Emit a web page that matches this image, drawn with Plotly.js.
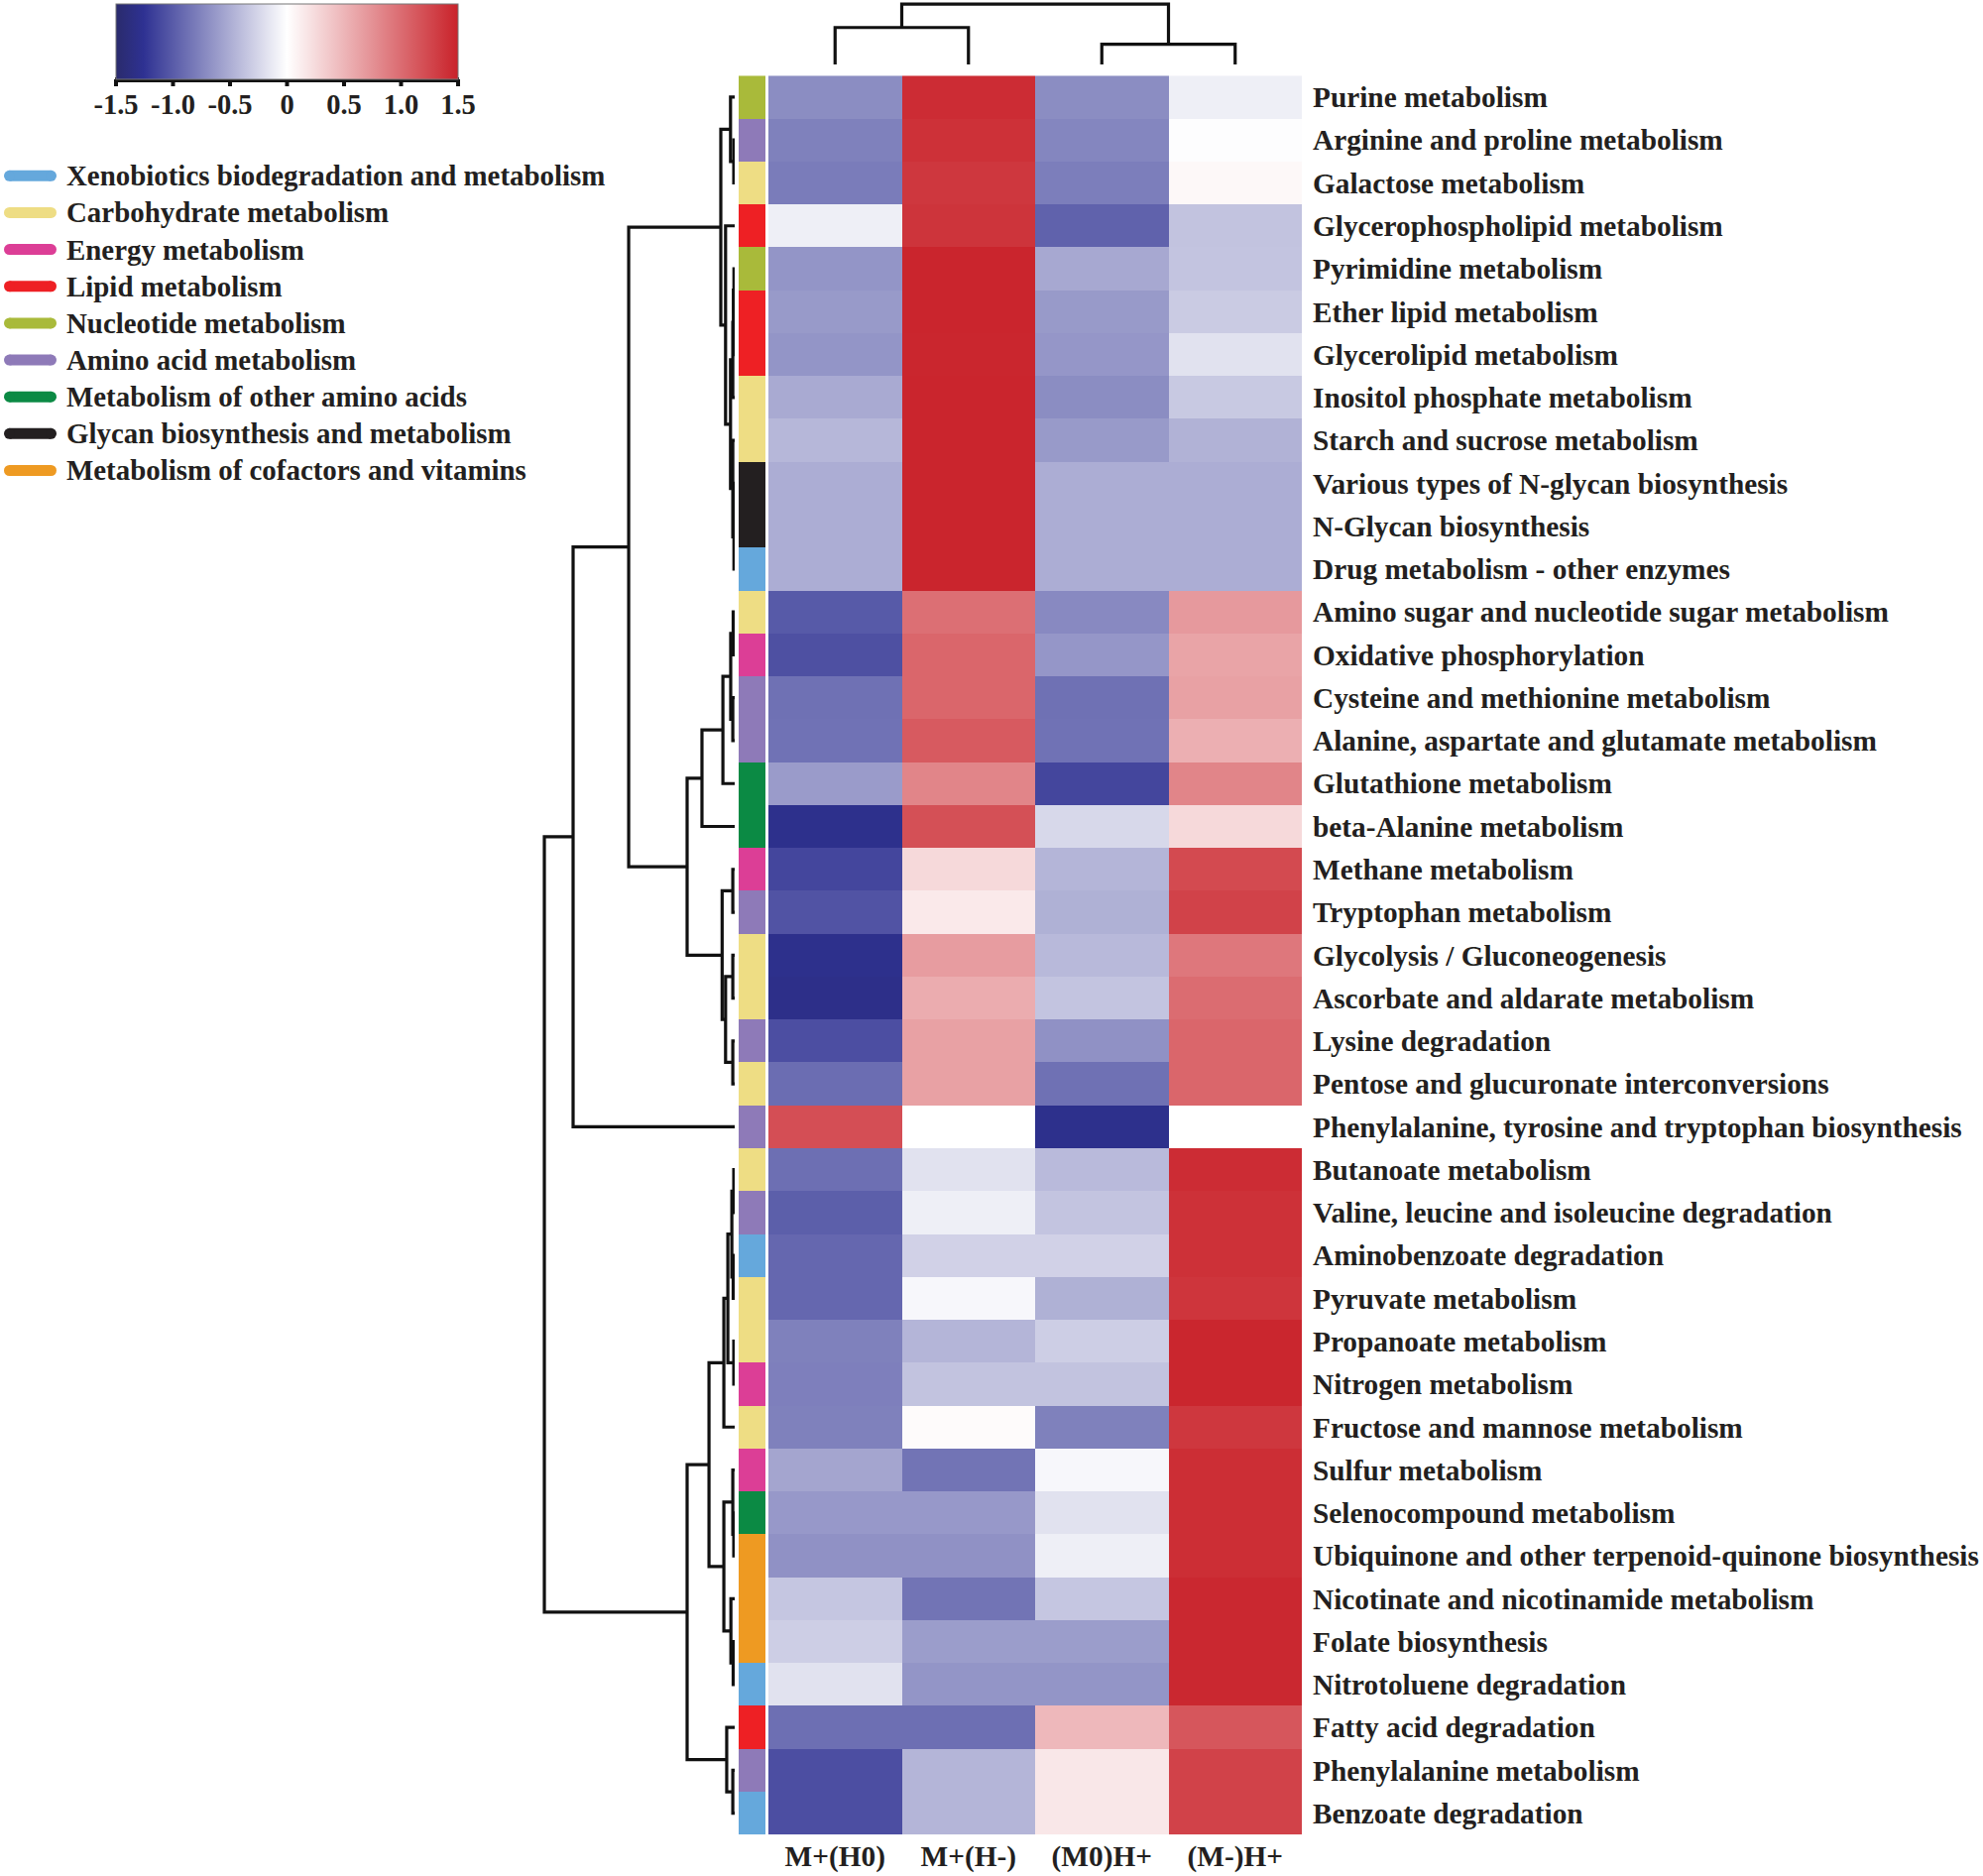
<!DOCTYPE html>
<html><head><meta charset="utf-8">
<script src="https://cdn.plot.ly/plotly-3.0.1.min.js"></script>
<style>html,body{margin:0;padding:0;background:#fff}#chart{width:2000px;height:1892px}</style>
</head><body><div id="chart"></div>
<script>
const W = 2000, H = 1892;
const FONT = '"Liberation Serif", "Times New Roman", serif';
const TXT = '#231f20';

// ---- data ----
const pathways = [
  "Purine metabolism","Arginine and proline metabolism","Galactose metabolism","Glycerophospholipid metabolism",
  "Pyrimidine metabolism","Ether lipid metabolism","Glycerolipid metabolism","Inositol phosphate metabolism",
  "Starch and sucrose metabolism","Various types of N-glycan biosynthesis","N-Glycan biosynthesis",
  "Drug metabolism - other enzymes","Amino sugar and nucleotide sugar metabolism","Oxidative phosphorylation",
  "Cysteine and methionine metabolism","Alanine, aspartate and glutamate metabolism","Glutathione metabolism",
  "beta-Alanine metabolism","Methane metabolism","Tryptophan metabolism","Glycolysis / Gluconeogenesis",
  "Ascorbate and aldarate metabolism","Lysine degradation","Pentose and glucuronate interconversions",
  "Phenylalanine, tyrosine and tryptophan biosynthesis","Butanoate metabolism",
  "Valine, leucine and isoleucine degradation","Aminobenzoate degradation","Pyruvate metabolism",
  "Propanoate metabolism","Nitrogen metabolism","Fructose and mannose metabolism","Sulfur metabolism",
  "Selenocompound metabolism","Ubiquinone and other terpenoid-quinone biosynthesis",
  "Nicotinate and nicotinamide metabolism","Folate biosynthesis","Nitrotoluene degradation",
  "Fatty acid degradation","Phenylalanine metabolism","Benzoate degradation"
];
const groups = ["M+(H0)","M+(H-)","(M0)H+","(M-)H+"];

const valMH0 = [-0.70,-0.77,-0.80,-0.10,-0.65,-0.62,-0.65,-0.52,-0.44,-0.50,-0.50,-0.50,
  -1.01,-1.07,-0.87,-0.86,-0.61,-1.30,-1.13,-1.05,-1.30,-1.32,-1.08,-0.89,1.20,
  -0.88,-0.98,-0.93,-0.93,-0.77,-0.78,-0.77,-0.55,-0.63,-0.67,-0.35,-0.30,-0.18,-0.88,-1.08,-1.08];
const valMHm = [1.43,1.40,1.36,1.38,1.48,1.48,1.47,1.48,1.48,1.48,1.48,1.48,
  0.98,1.04,1.04,1.12,0.83,1.19,0.26,0.15,0.67,0.56,0.64,0.64,0.00,
  -0.18,-0.10,-0.28,-0.05,-0.45,-0.37,0.03,-0.85,-0.63,-0.67,-0.85,-0.60,-0.65,-0.88,-0.45,-0.45];
const valM0H = [-0.70,-0.74,-0.79,-0.96,-0.53,-0.62,-0.64,-0.70,-0.62,-0.50,-0.50,-0.50,
  -0.72,-0.64,-0.87,-0.86,-1.13,-0.24,-0.45,-0.48,-0.43,-0.36,-0.67,-0.87,-1.30,
  -0.42,-0.36,-0.28,-0.48,-0.30,-0.37,-0.77,-0.05,-0.18,-0.10,-0.35,-0.60,-0.65,0.48,0.16,0.16];
const valMmH = [-0.10,-0.01,0.05,-0.37,-0.36,-0.32,-0.18,-0.33,-0.47,-0.50,-0.50,-0.50,
  0.69,0.62,0.64,0.54,0.83,0.26,1.23,1.28,0.92,1.00,1.04,1.04,0.00,
  1.43,1.40,1.40,1.37,1.47,1.47,1.36,1.42,1.42,1.42,1.46,1.46,1.46,1.15,1.28,1.28];

const categories = [
  "Xenobiotics biodegradation and metabolism","Carbohydrate metabolism","Energy metabolism",
  "Lipid metabolism","Nucleotide metabolism","Amino acid metabolism",
  "Metabolism of other amino acids","Glycan biosynthesis and metabolism",
  "Metabolism of cofactors and vitamins"
];
const categoryColors = ["#65a8dc","#eedd84","#dc3e96","#ee2024","#a9ba3a","#8e7ab8","#0b8a44","#231f20","#ee9a22"];
const pathwayCategory = [4,5,1,3,4,3,3,1,1,7,7,0,1,2,5,5,6,6,2,5,1,1,5,1,5,
  1,5,0,1,1,2,1,2,6,8,8,8,0,3,5,0];

// row clustering: [left, right, height]; leaves 0..40, merge k -> 41+k
const rowLinkage = [
  [1,2,0.05],[0,41,0.22],[4,5,0.04],[43,6,0.07],[44,7,0.10],[9,10,0.02],[46,11,0.04],[8,47,0.10],
  [45,48,0.22],[3,49,0.48],[42,50,0.73],
  [12,13,0.08],[14,15,0.10],[52,53,0.21],[54,16,0.62],[55,17,1.72],
  [18,19,0.10],[20,21,0.10],[22,23,0.10],[58,59,0.48],[57,60,0.66],[56,61,2.50],
  [51,62,5.57],[63,24,8.49],
  [25,26,0.05],[27,28,0.08],[65,66,0.15],[29,30,0.05],[67,68,0.36],[69,31,0.57],
  [33,34,0.05],[32,71,0.10],[36,37,0.08],[35,73,0.20],[72,74,0.57],[70,75,1.35],
  [39,40,0.10],[38,77,0.42],[76,78,2.50],[64,79,10.0]
];
// column clustering
const colLinkage = [[0,1,6.13],[2,3,3.36],[4,5,10.0]];

const scaleTicks = [-1.5, -1, -0.5, 0, 0.5, 1, 1.5];
const scaleTickText = ['-1.5', '-1.0', '-0.5', '0', '0.5', '1.0', '1.5'];

// ---- helpers ----
const px = v => v / W;
const py = v => 1 - v / H;
function dendro(linkage, n) {
  const pos = [], ht = [];
  for (let i = 0; i < n; i++) { pos[i] = i; ht[i] = 0; }
  const hs = [], ps = [];
  linkage.forEach((m, k) => {
    const [l, r, h] = m, id = n + k;
    pos[id] = (pos[l] + pos[r]) / 2; ht[id] = h;
    hs.push(ht[l], h, h, ht[r], null);
    ps.push(pos[l], pos[l], pos[r], pos[r], null);
  });
  return { h: hs, p: ps };
}

const rowIdx = pathways.map((_, i) => i);
const colIdx = groups.map((_, i) => i);
const z = pathways.map((_, i) => [valMH0[i], valMHm[i], valM0H[i], valMmH[i]]);

const stripScale = [];
categoryColors.forEach((c, i) => {
  stripScale.push([i / categoryColors.length, c]);
  stripScale.push([(i + 1) / categoryColors.length, c]);
});

const rd = dendro(rowLinkage, pathways.length);
const cd = dendro(colLinkage, groups.length);
const labelFont = { family: FONT, weight: 'bold', size: 29.3, color: TXT };
const scaleFont = { family: FONT, weight: 'bold', size: 28.5, color: TXT };
const legendFont = { family: FONT, weight: 'bold', size: 28.9, color: TXT };

// colour bar geometry (pixels)
const CB = { left: 117, right: 462, top: 4, bottom: 80 };

const traces = [
  {
    type: 'heatmap', x: colIdx, y: rowIdx, z: z, xaxis: 'x', yaxis: 'y',
    zmin: -1.5, zmax: 1.5,
    colorscale: [[0, '#2a2b6c'], [0.08, '#2e3192'], [0.5, '#ffffff'], [1, '#c9222a']],
    showscale: true, hoverinfo: 'skip',
    colorbar: {
      orientation: 'h', x: px((CB.left + CB.right) / 2), xanchor: 'center', y: py(CB.top), yanchor: 'top',
      len: (CB.right - CB.left) / W, lenmode: 'fraction', thickness: CB.bottom - CB.top, thicknessmode: 'pixels',
      xpad: 0, ypad: 0, outlinewidth: 1, outlinecolor: '#777',
      tickvals: scaleTicks, ticktext: scaleTickText, ticks: '',
      tickfont: scaleFont
    },
    showlegend: false
  },
  {
    type: 'heatmap', x: [0], y: rowIdx, z: pathwayCategory.map(c => [c]),
    xaxis: 'x2', yaxis: 'y', zmin: -0.5, zmax: categories.length - 0.5,
    colorscale: stripScale, showscale: false, hoverinfo: 'skip', showlegend: false
  },
  {
    type: 'scatter', mode: 'lines', x: rd.h, y: rd.p, xaxis: 'x3', yaxis: 'y',
    line: { color: '#111', width: 3.2 }, hoverinfo: 'skip', showlegend: false
  },
  {
    type: 'scatter', mode: 'lines', x: cd.p, y: cd.h, xaxis: 'x', yaxis: 'y2',
    line: { color: '#111', width: 3.2 }, hoverinfo: 'skip', showlegend: false
  }
];

// category key: pill swatch + label per category
const swatchSpan = [9.5, 51.5];
categories.forEach((c, i) => {
  traces.push({
    type: 'scatter', mode: 'lines+markers', x: swatchSpan, y: [i, i], xaxis: 'x4', yaxis: 'y4',
    line: { color: categoryColors[i], width: 11 },
    marker: { color: categoryColors[i], size: 11, symbol: 'circle', line: { width: 0 } },
    hoverinfo: 'skip', showlegend: false, cliponaxis: false
  });
});
const keyAnnotations = categories.map((c, i) => ({
  xref: 'x4', yref: 'y4', x: 65, y: i, text: c, showarrow: false,
  xanchor: 'left', yanchor: 'middle', font: legendFont
}));

const KEY = { first: 177.3, step: 37.15 };

const cbShapes = [
  { type: 'line', xref: 'paper', yref: 'paper', x0: px(CB.left - 1), x1: px(CB.right + 1),
    y0: py(CB.bottom + 0.5), y1: py(CB.bottom + 0.5), line: { color: '#111', width: 5 } }
].concat(scaleTicks.map(v => {
  const xp = CB.left + (v + 1.5) / 3 * (CB.right - CB.left);
  return { type: 'line', xref: 'paper', yref: 'paper', x0: px(xp), x1: px(xp),
    y0: py(CB.bottom), y1: py(CB.bottom + 7), line: { color: '#111', width: 4 } };
}));

const layout = {
  width: W, height: H, margin: { l: 0, r: 0, t: 0, b: 0, pad: 0 },
  paper_bgcolor: '#ffffff', plot_bgcolor: 'rgba(0,0,0,0)',
  font: labelFont,
  showlegend: false,
  xaxis: {
    domain: [px(775), px(1313)], range: [-0.5, 3.5], anchor: 'y',
    tickvals: colIdx, ticktext: groups, ticks: '', showgrid: false, zeroline: false,
    showline: false, ticklabelstandoff: 1, tickfont: labelFont, fixedrange: true
  },
  yaxis: {
    domain: [py(1850.3), py(76.3)], range: [pathways.length - 0.5, -0.5], anchor: 'x',
    side: 'right', tickvals: rowIdx, ticktext: pathways, ticks: '', showgrid: false,
    zeroline: false, showline: false, ticklabelstandoff: 10, tickfont: labelFont, fixedrange: true
  },
  xaxis2: { domain: [px(745), px(772)], range: [-0.5, 0.5], anchor: 'y', visible: false, fixedrange: true },
  xaxis3: { domain: [px(540), px(741)], range: [10.47, 0], anchor: 'y', visible: false, fixedrange: true },
  yaxis2: { domain: [py(65), 1], range: [0, 10.69], anchor: 'x', visible: false, fixedrange: true },
  xaxis4: { domain: [0, px(70)], range: [0, 70], anchor: 'y4', visible: false, fixedrange: true },
  yaxis4: {
    domain: [py(KEY.first + KEY.step * (categories.length - 0.5)), py(KEY.first - KEY.step * 0.5)],
    range: [categories.length - 0.5, -0.5], anchor: 'x4', visible: false, fixedrange: true
  },
  annotations: keyAnnotations,
  shapes: cbShapes
};

Plotly.newPlot('chart', traces, layout, { staticPlot: true, displayModeBar: false });
</script>
</body></html>
